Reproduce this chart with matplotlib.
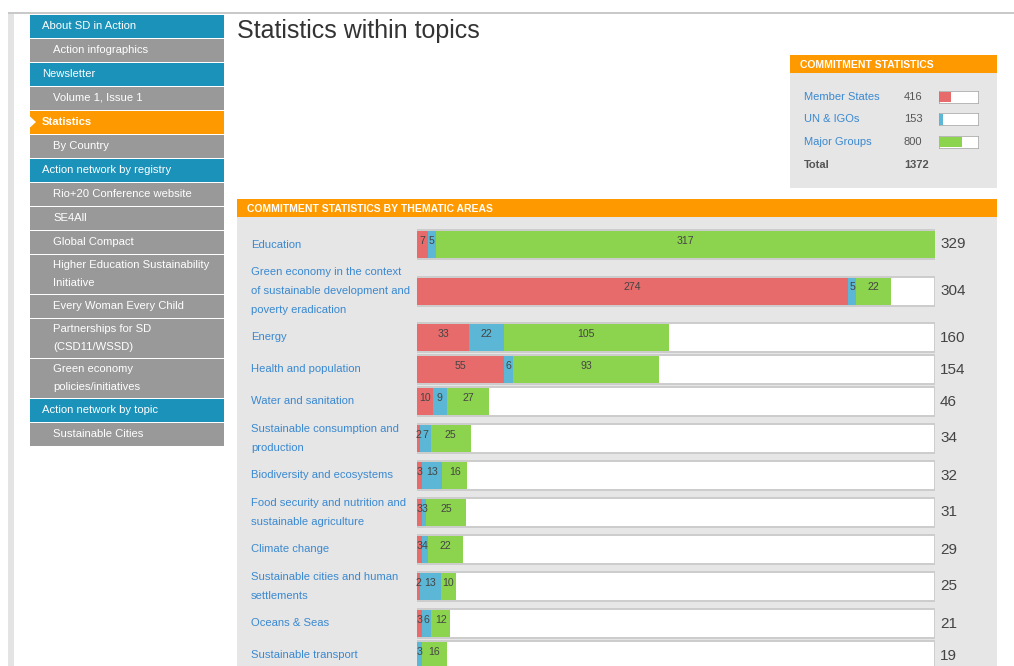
import matplotlib
matplotlib.use("Agg")
import matplotlib.pyplot as plt
from matplotlib.patches import Rectangle, Polygon

plt.rcParams['font.family'] = ['Liberation Sans', 'DejaVu Sans']

# ---------------- data ----------------
topics = [
    "Education",
    "Green economy in the context\nof sustainable development and\npoverty eradication",
    "Energy",
    "Health and population",
    "Water and sanitation",
    "Sustainable consumption and\nproduction",
    "Biodiversity and ecosystems",
    "Food security and nutrition and\nsustainable agriculture",
    "Climate change",
    "Sustainable cities and human\nsettlements",
    "Oceans & Seas",
    "Sustainable transport",
]
member_states = [7, 274, 33, 55, 10, 2, 3, 3, 3, 2, 3, 0]
un_igos = [5, 5, 22, 6, 9, 7, 13, 3, 4, 13, 6, 3]
major_groups = [317, 22, 105, 93, 27, 25, 16, 25, 22, 10, 12, 16]
totals = [329, 304, 160, 154, 46, 34, 32, 31, 29, 25, 21, 19]

summary_labels = ["Member States", "UN & IGOs", "Major Groups"]
summary_values = [416, 153, 800]
summary_total = 1372

sidebar_items = [
    ("About SD in Action", "top"),
    ("Action infographics", "sub"),
    ("Newsletter", "top"),
    ("Volume 1, Issue 1", "sub"),
    ("Statistics", "active"),
    ("By Country", "sub"),
    ("Action network by registry", "top"),
    ("Rio+20 Conference website", "sub"),
    ("SE4All", "sub"),
    ("Global Compact", "sub"),
    ("Higher Education Sustainability\nInitiative", "sub"),
    ("Every Woman Every Child", "sub"),
    ("Partnerships for SD\n(CSD11/WSSD)", "sub"),
    ("Green economy\npolicies/initiatives", "sub"),
    ("Action network by topic", "top"),
    ("Sustainable Cities", "sub"),
]

title = "Statistics within topics"
box_title = "COMMITMENT STATISTICS"
panel_title = "COMMITMENT STATISTICS BY THEMATIC AREAS"

# ---------------- style ----------------
W, H = 1014, 666
RED = "#e86b6b"
BLUE = "#5bb7d5"
GREEN = "#8cd44e"
ORANGE = "#ff9900"
SIDE_BLUE = "#1b92b9"
SIDE_GRAY = "#999999"
PANEL = "#e6e6e6"
LINK = "#3a89d1"
TXT = "#555555"
seg_colors = [RED, BLUE, GREEN]

fig = plt.figure(figsize=(W / 100, H / 100), dpi=100)
fig.patch.set_facecolor("white")
bg = fig.add_axes([0, 0, 1, 1])
bg.set_xlim(0, W)
bg.set_ylim(H, 0)
bg.axis("off")

# page frame
bg.add_patch(Rectangle((8, 14), 6, H - 14, color="#e4e4e4", lw=0))
bg.add_patch(Rectangle((8, 11.5), W - 8, 2.5, color="#c9c9c9", lw=0))

# sidebar
y = 14.5
for text, kind in sidebar_items:
    nlines = text.count("\n") + 1
    h = 23 if nlines == 1 else 39
    color = {"top": SIDE_BLUE, "sub": SIDE_GRAY, "active": ORANGE}[kind]
    bg.add_patch(Rectangle((30, y), 194, h, color=color, lw=0))
    x = 53 if kind == "sub" else 42
    bg.text(x, y + h / 2, text, color="white", fontsize=8.1, va="center", ha="left",
            linespacing=2.0, fontweight="bold" if kind == "active" else "normal")
    if kind == "active":
        bg.add_patch(Polygon([(30, y + 6), (36, y + h / 2), (30, y + h - 6)],
                             closed=True, color="white", lw=0))
    y += h + 1

# title
bg.text(237, 31, title, fontsize=18, color="#333333", va="center", ha="left")

# summary box
bg.add_patch(Rectangle((790, 55), 207, 18, color=ORANGE, lw=0))
bg.add_patch(Rectangle((790, 73), 207, 115, color=PANEL, lw=0))
bg.text(800, 64.5, box_title, fontsize=7.5, color="white", fontweight="bold",
        va="center", ha="left")
row_y = [97, 119.5, 142]
for i, (lab, val) in enumerate(zip(summary_labels, summary_values)):
    bg.text(804, row_y[i], lab, fontsize=8, color=LINK, va="center", ha="left")
    bg.text(904, row_y[i], str(val), fontsize=8, color=TXT, va="center", ha="left")
    sax = fig.add_axes([939 / W, 1 - (row_y[i] + 6.5) / H, 40 / W, 13 / H])
    sax.set_xlim(0, summary_total)
    sax.set_ylim(-0.5, 0.5)
    sax.axis("off")
    sax.barh(0, summary_total, height=1, color="white", edgecolor="#aaaaaa", lw=1.2)
    sax.barh(0, val, height=0.82, color=seg_colors[i], lw=0)
bg.text(804, 165, "Total", fontsize=8, color=TXT, fontweight="bold", va="center", ha="left")
bg.text(904, 165, str(summary_total), fontsize=8, color=TXT, fontweight="bold",
        va="center", ha="left")

# main panel
bg.add_patch(Rectangle((237, 199), 760, 18, color=ORANGE, lw=0))
bg.add_patch(Rectangle((237, 217), 760, H - 217, color=PANEL, lw=0))
bg.text(247, 208.5, panel_title, fontsize=7.5, color="white", fontweight="bold",
        va="center", ha="left")

# bar chart axes: x in data units, y in page pixels
ax = fig.add_axes([417 / W, 0, 518 / W, 1])
ax.set_xlim(0, max(totals))
ax.set_ylim(H, 0)
ax.axis("off")

centers = []
top = 228.5
for t in topics:
    n = t.count("\n") + 1
    h = max(32, 19 * n + 4)
    centers.append(top + h / 2)
    top += h

ax.barh(centers, [max(totals)] * len(topics), height=29, left=0, color="white",
        edgecolor="#cccccc", lw=1.4)
left = [0] * len(topics)
for series, col in zip([member_states, un_igos, major_groups], seg_colors):
    bars = ax.barh(centers, series, height=27, left=left, color=col, lw=0)
    for b, v, c in zip(bars, series, centers):
        if v > 0:
            ax.text(b.get_x() + b.get_width() / 2, c - 3.5, str(v), fontsize=7.6,
                    color="#444444", ha="center", va="center")
    left = [l + v for l, v in zip(left, series)]

for t, c, tot in zip(topics, centers, totals):
    bg.text(251, c, t, fontsize=8.1, color=LINK, va="center", ha="left", linespacing=2.08)
    ax.annotate(str(tot), xy=(max(totals), c), xytext=(5, 0), textcoords="offset pixels",
                fontsize=11, color="#444444", va="center", ha="left")

fig.savefig("out.png", dpi=100, facecolor="white")
